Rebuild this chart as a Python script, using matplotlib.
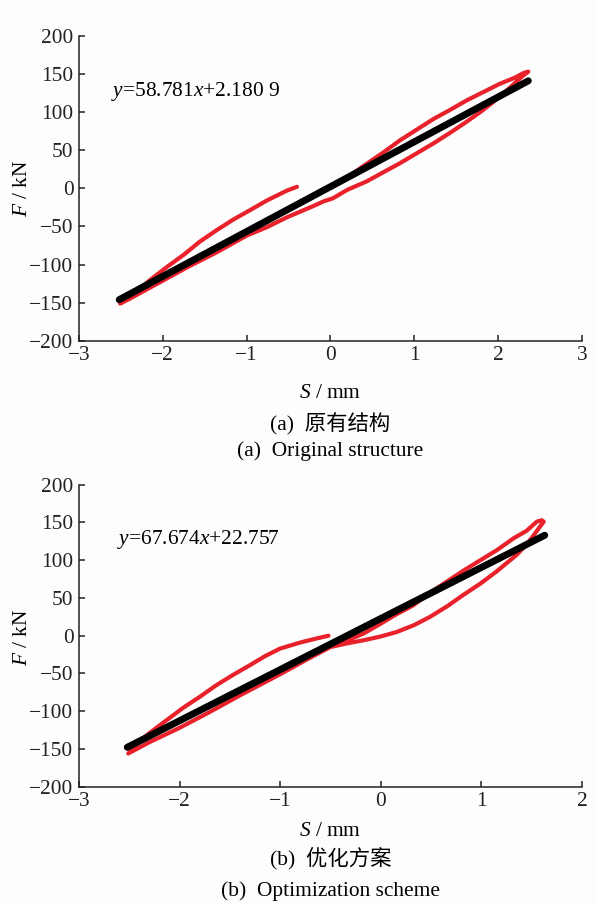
import matplotlib
matplotlib.use("Agg")
import matplotlib.pyplot as plt
import numpy as np

a_upper_left_s = [-0.40, -0.52, -0.76, -0.95, -1.16, -1.36, -1.56, -1.75, -1.95, -2.15, -2.30, -2.42, -2.51]
a_upper_left_f = [2, -3, -16, -28, -41, -55, -70, -87, -103, -120, -134, -144, -151]
a_lower_s = [-2.51, -2.40, -2.20, -1.95, -1.70, -1.36, -1.00, -0.76, -0.52, -0.37, -0.20, -0.08,
             0.03, 0.20, 0.43, 0.63, 0.83, 1.03, 1.23, 1.43, 1.62, 1.80, 1.94, 2.08, 2.20, 2.30, 2.36]
a_lower_f = [-151, -145, -133, -118, -103, -84, -62, -51, -38, -31, -23, -17,
             -13, -2, 9, 21, 33, 46, 59, 73, 87, 101, 113, 126, 138, 148, 153]
a_upper_right_s = [2.36, 2.30, 2.20, 2.02, 1.82, 1.62, 1.43, 1.23, 1.03, 0.83, 0.63, 0.43, 0.30, 0.15, 0.0, -0.10]
a_upper_right_f = [153, 151, 145, 137, 126, 115, 103, 91, 77, 63, 47, 32, 22, 11, 2, -4]
a_fit = (58.781, 2.1809)
a_fit_range = (-2.52, 2.36)
a_eq = "$y$=58.781$x$+2.180 9"

# (b) optimization scheme
b_upper_left_s = [-0.52, -0.65, -0.80, -1.00, -1.15, -1.30, -1.47, -1.64, -1.80, -1.97, -2.13, -2.30, -2.42, -2.51]
b_upper_left_f = [0, -4, -9, -17, -27, -39, -52, -66, -81, -96, -112, -129, -143, -156]
b_lower_s = [-2.51, -2.30, -2.00, -1.70, -1.40, -1.00, -0.70, -0.50, -0.33, -0.17, 0.0, 0.16, 0.33,
             0.49, 0.66, 0.82, 0.99, 1.15, 1.25, 1.35, 1.45, 1.52, 1.58, 1.62]
b_lower_f = [-156, -141, -122, -101, -79, -51, -29, -15, -10, -6, -1, 5, 14,
             25, 39, 54, 69, 85, 96, 107, 121, 133, 144, 151]
b_upper_right_s = [1.62, 1.60, 1.55, 1.45, 1.32, 1.15, 0.99, 0.82, 0.66, 0.49, 0.32, 0.15, 0.0, -0.17, -0.33, -0.45]
b_upper_right_f = [151, 153, 151, 139, 129, 113, 100, 86, 72, 57, 40, 28, 16, 3, -6, -12]
b_fit = (67.674, 22.757)
b_fit_range = (-2.52, 1.63)
b_eq = "$y$=67.674$x$+22.757"

yticks = [-200, -150, -100, -50, 0, 50, 100, 150, 200]

SERIF = ["Liberation Serif", "Noto Sans CJK SC"]
RED = "#e8212b"
FS = 15.4

plt.rcParams["font.family"] = SERIF
plt.rcParams["mathtext.fontset"] = "custom"
plt.rcParams["mathtext.rm"] = "Liberation Serif"
plt.rcParams["mathtext.it"] = "Liberation Serif:italic"
plt.rcParams["axes.unicode_minus"] = True


def draw_panel(ax, parts, fit, fit_range, eq, xlim):
    s_all, f_all = [], []
    for s, f in parts:
        s_all += list(s)
        f_all += list(f)
    ax.plot(s_all, f_all, color=RED, lw=3.0, solid_capstyle="round", solid_joinstyle="round", zorder=2)
    xs = np.array(fit_range)
    ax.plot(xs, fit[0] * xs + fit[1], color="black", lw=5.0, solid_capstyle="round", zorder=3)
    ax.text(-2.62, 127, eq, fontsize=FS, ha="left", va="center")

    ax.set_xlim(*xlim)
    ax.set_ylim(-200, 200)
    ax.set_xticks(range(xlim[0], xlim[1] + 1))
    ax.set_yticks(yticks)
    for side in ("top", "right"):
        ax.spines[side].set_visible(False)
    for side in ("left", "bottom"):
        ax.spines[side].set_linewidth(1.1)
        ax.spines[side].set_color("#222222")
    ax.tick_params(direction="in", length=4, width=1.1, labelsize=FS, pad=4, colors="#222222")
    ax.patch.set_alpha(0)


fig = plt.figure(figsize=(5.97, 9.05), dpi=100)
fig.patch.set_facecolor("#fdfdfd")

ax_a = fig.add_axes([0.1323, 0.6233, 0.8425, 0.3372])
draw_panel(ax_a,
           [(a_upper_left_s, a_upper_left_f), (a_lower_s, a_lower_f), (a_upper_right_s, a_upper_right_f)],
           a_fit, a_fit_range, a_eq, (-3, 3))

ax_b = fig.add_axes([0.1323, 0.1307, 0.8425, 0.3337])
draw_panel(ax_b,
           [(b_upper_left_s, b_upper_left_f), (b_lower_s, b_lower_f), (b_upper_right_s, b_upper_right_f)],
           b_fit, b_fit_range, b_eq, (-3, 2))

xc = 0.5536
fig.text(0.0369, 0.7923, "$F$ / kN", rotation=90, fontsize=FS, ha="center", va="center")
fig.text(0.0369, 0.2961, "$F$ / kN", rotation=90, fontsize=FS, ha="center", va="center")
fig.text(xc, 0.5657, "$S$ / mm", fontsize=FS, ha="center", va="center")
fig.text(xc, 0.5315, "(a)  原有结构", fontsize=FS, ha="center", va="center", family=SERIF)
fig.text(xc, 0.5017, "(a)  Original structure", fontsize=FS, ha="center", va="center")
fig.text(xc, 0.0807, "$S$ / mm", fontsize=FS, ha="center", va="center")
fig.text(xc, 0.0519, "(b)  优化方案", fontsize=FS, ha="center", va="center", family=SERIF)
fig.text(xc, 0.0155, "(b)  Optimization scheme", fontsize=FS, ha="center", va="center")

fig.savefig("out.png", dpi=100, facecolor=fig.get_facecolor())
